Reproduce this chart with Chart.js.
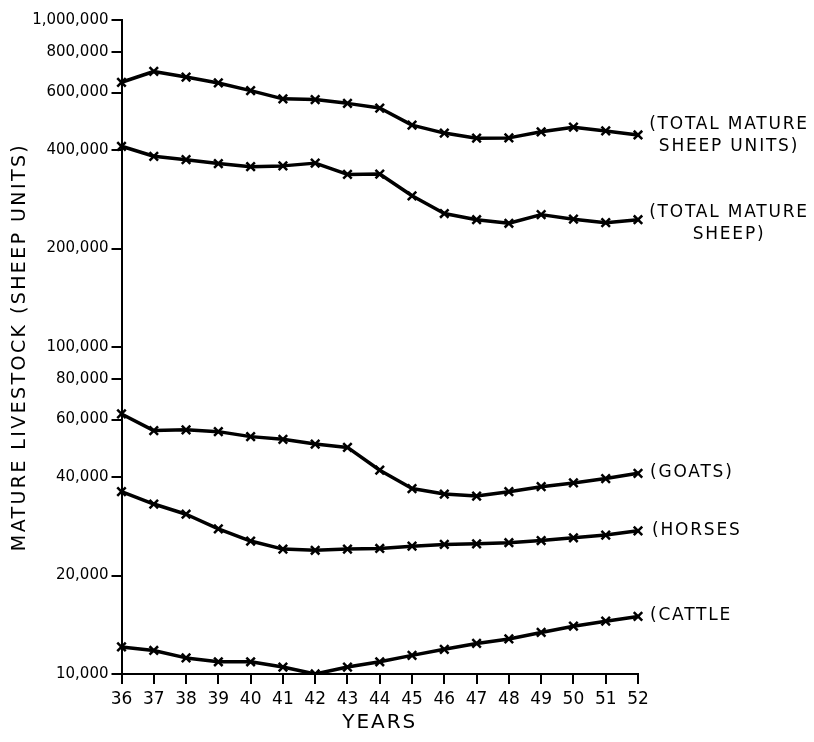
<!DOCTYPE html>
<html>
<head>
<meta charset="utf-8">
<script src="https://cdn.jsdelivr.net/npm/chart.js@4/dist/chart.umd.min.js"></script>
<style>
  html, body { margin: 0; padding: 0; background: #fff; }
  canvas { display: block; }
</style>
</head>
<body>
<canvas id="c" width="814" height="742"></canvas>
<script>
// ---- data ----
const years = ['36','37','38','39','40','41','42','43','44','45','46','47','48','49','50','51','52'];
const totalSheepUnits = [645000, 696000, 669000, 642000, 608000, 574000, 571000, 556000, 538000, 477000, 451000, 435000, 436000, 455000, 470000, 458000, 445000];
const totalSheep      = [411000, 383000, 374000, 364000, 356000, 358000, 365000, 337000, 338000, 290000, 256000, 245000, 239000, 254000, 246000, 240000, 245000];
const goats           = [62400, 55500, 55800, 55100, 53200, 52200, 50500, 49300, 42000, 36900, 35500, 35000, 36100, 37400, 38400, 39600, 41100];
const horses          = [36100, 33100, 30800, 27800, 25500, 24100, 23900, 24100, 24200, 24600, 24900, 25000, 25200, 25600, 26100, 26600, 27400];
const cattle          = [12100, 11800, 11200, 10900, 10900, 10500, 10000, 10500, 10900, 11400, 11900, 12400, 12800, 13400, 14000, 14500, 15000];
const yTickValues = [10000, 20000, 40000, 60000, 80000, 100000, 200000, 400000, 600000, 800000, 1000000];
const seriesLabels = [
  ['(TOTAL MATURE', 'SHEEP UNITS)'],
  ['(TOTAL MATURE', 'SHEEP)'],
  ['(GOATS)'],
  ['(HORSES'],
  ['(CATTLE']
];
const yTitle = 'MATURE LIVESTOCK (SHEEP UNITS)';
const xTitle = 'YEARS';

// ---- styles ----
const FONT = '"DejaVu Sans", "Liberation Sans", sans-serif';
const labelStyle = [
  { align: 'center', dx: 91, dy: [-10, 12] },
  { align: 'center', dx: 91, dy: [-7, 15] },
  { align: 'left', dx: 12, dy: [-1] },
  { align: 'left', dx: 14, dy: [0] },
  { align: 'left', dx: 12, dy: [-1] }
];

function fmt(v) {
  return String(v).replace(/\B(?=(\d{3})+(?!\d))/g, ',');
}

function ds(data) {
  return {
    data: data,
    borderColor: '#000',
    backgroundColor: '#000',
    borderWidth: 3.5,
    borderJoinStyle: 'round',
    borderCapStyle: 'round',
    tension: 0,
    fill: false,
    pointStyle: 'crossRot',
    pointRadius: 6,
    pointBorderWidth: 2.5,
    pointBorderColor: '#000',
    pointBackgroundColor: '#000'
  };
}

const textPlugin = {
  id: 'textPlugin',
  afterDraw(chart) {
    const ctx = chart.ctx;
    const area = chart.chartArea;
    ctx.save();
    ctx.fillStyle = '#000';
    ctx.textBaseline = 'middle';
    // series labels at the right end of each line
    ctx.font = '17px ' + FONT;
    ctx.letterSpacing = '1.8px';
    chart.data.datasets.forEach((d, i) => {
      const meta = chart.getDatasetMeta(i);
      const last = meta.data[meta.data.length - 1];
      const st = labelStyle[i];
      ctx.textAlign = st.align;
      seriesLabels[i].forEach((line, j) => {
        ctx.fillText(line, last.x + st.dx, last.y + st.dy[j]);
      });
    });
    // y-axis title
    ctx.font = '19px ' + FONT;
    ctx.letterSpacing = '2.4px';
    ctx.textAlign = 'center';
    ctx.translate(20, (area.top + area.bottom) / 2);
    ctx.rotate(-Math.PI / 2);
    ctx.fillText(yTitle, 0, 0);
    ctx.restore();
    // x-axis title
    ctx.save();
    ctx.fillStyle = '#000';
    ctx.font = '20px ' + FONT;
    ctx.letterSpacing = '2px';
    ctx.textAlign = 'center';
    ctx.textBaseline = 'middle';
    ctx.fillText(xTitle, (area.left + area.right) / 2, area.bottom + 49);
    ctx.restore();
  }
};

new Chart(document.getElementById('c'), {
  type: 'line',
  data: {
    labels: years,
    datasets: [ds(totalSheepUnits), ds(totalSheep), ds(goats), ds(horses), ds(cattle)]
  },
  options: {
    responsive: false,
    devicePixelRatio: 1,
    animation: false,
    layout: { padding: { top: 20, right: 176, bottom: 0, left: 0 } },
    plugins: { legend: { display: false }, tooltip: { enabled: false } },
    scales: {
      x: {
        type: 'category',
        offset: false,
        afterFit: (s) => { s.height = 68; },
        grid: { display: true, drawOnChartArea: false, drawTicks: true, tickLength: 10, color: '#000', lineWidth: 2 },
        border: { display: true, color: '#000', width: 2 },
        ticks: { color: '#000', font: { family: FONT, size: 17 }, padding: 5, maxRotation: 0, autoSkip: false }
      },
      y: {
        type: 'logarithmic',
        min: 10000,
        max: 1000000,
        afterFit: (s) => { s.width = 121.5; },
        afterBuildTicks: (s) => { s.ticks = yTickValues.map(v => ({ value: v })); },
        grid: { display: true, drawOnChartArea: false, drawTicks: true, tickLength: 10, color: '#000', lineWidth: 2 },
        border: { display: true, color: '#000', width: 2 },
        ticks: { color: '#000', font: { family: FONT, size: 15 }, padding: 3, autoSkip: false, callback: (v) => fmt(v) }
      }
    }
  },
  plugins: [textPlugin]
});
</script>
</body>
</html>
